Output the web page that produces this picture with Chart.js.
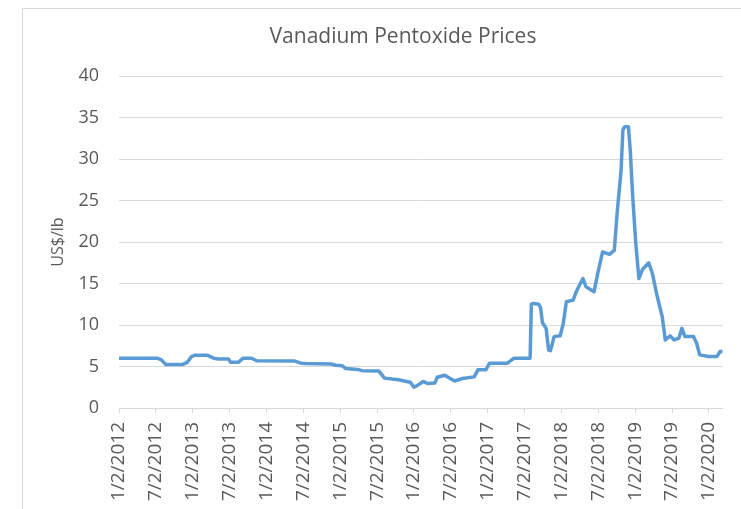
<!DOCTYPE html>
<html>
<head>
<meta charset="utf-8">
<script src="https://cdn.jsdelivr.net/npm/chart.js@4.4.1/dist/chart.umd.min.js"></script>
<style>
  html, body { margin: 0; padding: 0; background: #fff; overflow: hidden; }
  #moldura { position: absolute; left: 22px; top: 8px; width: 800px; height: 600px; border: 1px solid #d9d9d9; }
  #area { position: absolute; left: 0; top: 0; width: 741px; height: 509px; }
</style>
</head>
<body>
<div id="moldura"></div>
<div id="area"><canvas id="grafico" width="741" height="509"></canvas></div>
<script>
const tituloGrafico = 'Vanadium Pentoxide Prices';
const tituloEixoY = 'US$/lb';

// labels on the x axis, one every 6 months starting 1/2/2012
const rotulosDatas = ['1/2/2012', '7/2/2012', '1/2/2013', '7/2/2013', '1/2/2014', '7/2/2014',
    '1/2/2015', '7/2/2015', '1/2/2016', '7/2/2016', '1/2/2017', '7/2/2017',
    '1/2/2018', '7/2/2018', '1/2/2019', '7/2/2019', '1/2/2020'];

// months elapsed since 1/2/2012
const meses = [0, 6.2, 6.9, 7.6, 10.4, 11.1, 11.8, 12.3, 14.4, 15.4, 16.2, 17.8, 18.2, 19.4, 20.2, 21.6,
    22.4, 28.6, 29.6, 30.4, 34.5, 35.3, 36.3, 36.9, 38.8, 39.6, 42.3, 43.2, 45.5, 46.8, 47.4, 48.0,
    48.5, 49.5, 50.2, 51.4, 51.8, 53.0, 54.6, 55.9, 57.8, 58.4, 59.7, 60.3, 63.2, 64.3, 66.9,
    67.1, 67.5, 68.3, 68.6, 68.9, 69.5, 69.9, 70.2, 70.5, 70.8, 71.8, 72.3, 72.8, 73.9, 74.4,
    75.5, 76.0, 77.3, 77.9, 78.7, 79.8, 80.6, 81.1, 81.7, 82.0, 82.3, 82.9, 83.2, 83.6, 84.1,
    84.6, 85.2, 86.2, 86.8, 87.6, 88.4, 88.9, 89.7, 90.3, 91.1, 91.6, 92.1, 93.5, 94.0, 94.5,
    95.9, 97.3, 97.8, 98.2];

// price in US$/lb
const precos = [6.0, 6.0, 5.8, 5.25, 5.25, 5.5, 6.2, 6.35, 6.35, 6.0, 5.9, 5.9, 5.5, 5.5, 6.0, 6.0,
    5.7, 5.65, 5.4, 5.35, 5.3, 5.15, 5.1, 4.75, 4.65, 4.5, 4.45, 3.6, 3.4, 3.2, 3.1, 2.5,
    2.7, 3.2, 2.95, 3.0, 3.7, 3.95, 3.25, 3.55, 3.75, 4.6, 4.6, 5.4, 5.4, 6.0, 6.0,
    12.5, 12.6, 12.5, 12.1, 10.3, 9.6, 7.0, 6.9, 7.7, 8.6, 8.7, 10.2, 12.8, 13.0, 14.0,
    15.6, 14.6, 14.0, 16.2, 18.8, 18.5, 19.0, 23.8, 28.6, 33.5, 33.9, 33.9, 31.0, 25.4, 19.8,
    15.6, 16.7, 17.5, 16.2, 13.4, 11.0, 8.2, 8.7, 8.2, 8.4, 9.6, 8.6, 8.6, 7.8, 6.4,
    6.2, 6.2, 6.8, 6.8];

const corTexto = '#595959';
const corGrade = '#d9d9d9';

Chart.defaults.font.family = '"Open Sans", sans-serif';

// title centred on the whole chart object, which runs past the right edge
const tituloCentro = {
    id: 'tituloCentro',
    afterDraw(chart) {
        const c = chart.ctx;
        c.save();
        c.font = '21px "Open Sans"';
        c.fillStyle = corTexto;
        c.textAlign = 'center';
        c.textBaseline = 'middle';
        c.fillText(tituloGrafico, 403, 37);
        c.restore();
    }
};

const grafico = new Chart(document.getElementById('grafico').getContext('2d'), {
    type: 'line',
    data: {
        datasets: [{
            data: meses.map((m, i) => ({ x: m, y: precos[i] })),
            borderColor: '#5B9BD5',
            borderWidth: 3.5,
            pointRadius: 0,
            tension: 0,
            fill: false,
            borderJoinStyle: 'round',
            borderCapStyle: 'round'
        }]
    },
    options: {
        responsive: false,
        animation: false,
        devicePixelRatio: 1,
        layout: { padding: { top: 76, right: 12, left: 0, bottom: 0 } },
        plugins: {
            legend: { display: false },
            tooltip: { enabled: false },
            title: { display: false }
        },
        scales: {
            x: {
                type: 'linear',
                min: 0,
                max: 98.2,
                border: { display: true, color: corGrade },
                grid: { drawOnChartArea: false, drawTicks: true, tickLength: 5, color: corGrade },
                ticks: {
                    stepSize: 6,
                    includeBounds: false,
                    autoSkip: false,
                    minRotation: 90,
                    maxRotation: 90,
                    padding: 9,
                    color: corTexto,
                    font: { size: 19 },
                    callback: v => rotulosDatas[Math.round(v / 6)]
                },
                afterFit: s => { s.height = 101; }
            },
            y: {
                min: 0,
                max: 40,
                border: { display: false },
                grid: { color: corGrade, drawTicks: false },
                ticks: { stepSize: 5, padding: 20, color: corTexto, font: { size: 18 } },
                title: {
                    display: true,
                    text: tituloEixoY,
                    color: corTexto,
                    font: { size: 16 },
                    padding: { top: 49, bottom: 0 }
                },
                afterFit: s => { s.width = 119; }
            }
        }
    },
    plugins: [tituloCentro]
});
</script>
</body>
</html>
